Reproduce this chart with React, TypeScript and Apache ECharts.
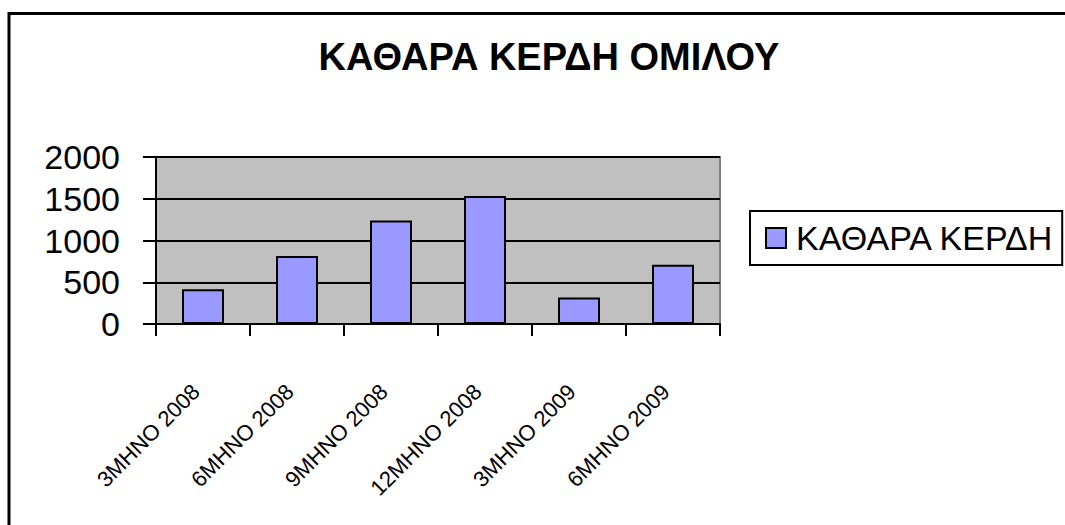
import React, { useEffect, useRef } from "react";
import * as echarts from "echarts";

const titleText = "ΚΑΘΑΡΑ ΚΕΡΔΗ ΟΜΙΛΟΥ";
const seriesName = "ΚΑΘΑΡΑ ΚΕΡΔΗ";
const categories = ["3ΜΗΝΟ 2008", "6ΜΗΝΟ 2008", "9ΜΗΝΟ 2008", "12ΜΗΝΟ 2008", "3ΜΗΝΟ 2009", "6ΜΗΝΟ 2009"];
const profits = [415, 813, 1239, 1534, 318, 709];
const yMin = 0;
const yMax = 2000;
const yStep = 500;

const FONT = "'Liberation Sans', Arial, sans-serif";

export default function App() {
  const ref = useRef<HTMLDivElement>(null);
  useEffect(() => {
    if (!ref.current) return;
    const chart = echarts.init(ref.current, undefined, { renderer: "svg" });
    chart.setOption({
      animation: false,
      backgroundColor: "#ffffff",
      textStyle: { fontFamily: FONT },
      title: {
        text: titleText,
        left: 544,
        textAlign: "center",
        top: 33,
        textStyle: { fontFamily: FONT, fontSize: 38, fontWeight: "bold", color: "#000" },
      },
      graphic: [
        {
          type: "rect",
          shape: { x: 9, y: 13.5, width: 1200, height: 700 },
          style: { fill: "none", stroke: "#000", lineWidth: 3 },
          silent: true,
          z: 100,
        },
      ],
      legend: {
        left: 750,
        top: 211,
        orient: "vertical",
        borderColor: "#000",
        borderWidth: 2,
        padding: [10, 8, 10, 15],
        itemWidth: 20,
        itemHeight: 20,
        icon: "rect",
        itemStyle: { borderColor: "#000", borderWidth: 2 },
        textStyle: { fontFamily: FONT, fontSize: 34, color: "#000", padding: [0, 0, 0, 5] },
        data: [seriesName],
      },
      grid: {
        left: 156,
        top: 157,
        right: 345,
        bottom: 201,
        show: true,
        backgroundColor: "#c0c0c0",
        borderColor: "#808080",
        borderWidth: 2,
      },
      xAxis: {
        type: "category",
        data: categories,
        axisLine: { show: true, lineStyle: { color: "#000", width: 2 } },
        axisTick: { show: true, length: 12, lineStyle: { color: "#000", width: 2 } },
        axisLabel: {
          rotate: 45,
          margin: 57,
          fontSize: 22,
          color: "#000",
          fontFamily: FONT,
          interval: 0,
          padding: [0, 10, 16, 0],
        },
        splitLine: { show: false },
      },
      yAxis: {
        type: "value",
        min: yMin,
        max: yMax,
        interval: yStep,
        axisLine: { show: true, lineStyle: { color: "#000", width: 2 } },
        axisTick: { show: true, length: 13, lineStyle: { color: "#000", width: 2 } },
        axisLabel: {
          fontSize: 34,
          color: "#000",
          margin: 36,
          fontFamily: FONT,
          formatter: (v: number) => String(v),
        },
        splitLine: { show: true, lineStyle: { color: "#000", width: 2 } },
      },
      series: [
        {
          name: seriesName,
          type: "bar",
          data: profits,
          barWidth: 42,
          itemStyle: { color: "#9999ff", borderColor: "#000", borderWidth: 2 },
        },
      ],
    });
    return () => chart.dispose();
  }, []);
  return (
    <div
      ref={ref}
      style={{ position: "fixed", left: 0, top: 0, width: 1065, height: 525 }}
    />
  );
}
